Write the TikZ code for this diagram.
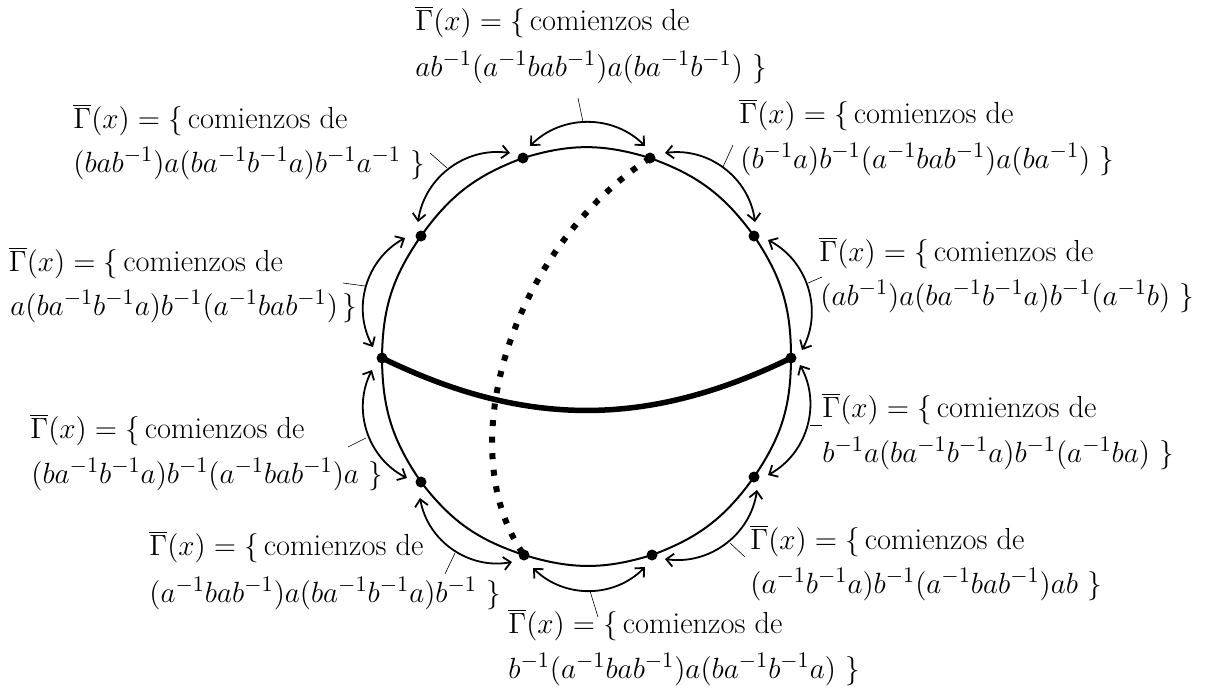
\documentclass[tikz,border=0pt]{standalone}
\usetikzlibrary{arrows.meta}
\tikzset{
  vtx/.style={circle,fill=black,inner sep=0pt,minimum size=11pt},
  rim/.style={line width=2pt,bend left=17},
  loopy/.style={line width=1.8pt,bend left=45,{Straight Barb[length=7pt,width=13pt,line width=1.8pt]}-{Straight Barb[length=7pt,width=13pt,line width=1.8pt]}},
  leader/.style={line width=0.6pt},
  lab/.style={anchor=base west,inner sep=0pt,font=\fontsize{15}{18}\selectfont,transform shape,scale=2.03},
  geo/.style={line width=5.5pt,bend right=26},
  dots/.style={line width=6pt,dash pattern=on 6pt off 10.6pt}
}
\newcommand{\gx}{$\overline{\Gamma}(x)=\{\,$comienzos de}
\begin{document}
\begin{tikzpicture}[x=1pt,y=-1pt]
\useasboundingbox (0,0) rectangle (1211,689);
% vertices
\node[vtx] (A) at (523,158) {};
\node[vtx] (B) at (650,158) {};
\node[vtx] (C) at (754,236) {};
\node[vtx] (D) at (791,358) {};
\node[vtx] (E) at (754,477) {};
\node[vtx] (F) at (652,555) {};
\node[vtx] (G) at (524,555) {};
\node[vtx] (H) at (421,482) {};
\node[vtx] (I) at (382,358) {};
\node[vtx] (J) at (421,236) {};
% rim
\draw[rim] (A.center) to (B.center);
\draw[rim] (B.center) to (C.center);
\draw[rim] (C.center) to (D.center);
\draw[rim] (D.center) to (E.center);
\draw[rim] (E.center) to (F.center);
\draw[rim] (F.center) to (G.center);
\draw[rim] (G.center) to (H.center);
\draw[rim] (H.center) to (I.center);
\draw[rim] (I.center) to (J.center);
\draw[rim] (J.center) to (A.center);
% inner curves
\draw[geo] (I.center) to (D.center);
\draw[dots] (B.center) .. controls (510,250) and (450,450) .. (G.center);
% arc end coordinates
\coordinate (ab1) at (530,146); \coordinate (ab2) at (645,146);
\coordinate (bc1) at (665,153); \coordinate (bc2) at (755,222);
\coordinate (cd1) at (768,240); \coordinate (cd2) at (802,350);
\coordinate (de1) at (800,365); \coordinate (de2) at (768,475);
\coordinate (ef1) at (757,490); \coordinate (ef2) at (665,559);
\coordinate (fg1) at (645,567); \coordinate (fg2) at (533,568);
\coordinate (gh1) at (512,562); \coordinate (gh2) at (420,498);
\coordinate (hi1) at (407,478); \coordinate (hi2) at (372,370);
\coordinate (ij1) at (373,347); \coordinate (ij2) at (405,238);
\coordinate (ja1) at (418,222); \coordinate (ja2) at (510,153);
\foreach \p/\q in {ab1/ab2,bc1/bc2,cd1/cd2,de1/de2,ef1/ef2,fg1/fg2,gh1/gh2,hi1/hi2,ij1/ij2,ja1/ja2}
  \draw[loopy] (\p) to (\q);
% labels
\node[lab] (l1a) at (415,30) {\gx};
\node[lab] (l1b) at (415,76) {$ab^{-1}(a^{-1}bab^{-1})a(ba^{-1}b^{-1})\ \}$};
\node[lab] (l2a) at (739,123) {\gx};
\node[lab] (l2b) at (740,168) {$(b^{-1}a)b^{-1}(a^{-1}bab^{-1})a(ba^{-1})\ \}$};
\node[lab] (l3a) at (819,261) {\gx};
\node[lab] (l3b) at (820,305) {$(ab^{-1})a(ba^{-1}b^{-1}a)b^{-1}(a^{-1}b)\ \}$};
\node[lab] (l4a) at (822,417) {\gx};
\node[lab] (l4b) at (822,462) {$b^{-1}a(ba^{-1}b^{-1}a)b^{-1}(a^{-1}ba)\ \}$};
\node[lab] (l5a) at (750,549) {\gx};
\node[lab] (l5b) at (750,593) {$(a^{-1}b^{-1}a)b^{-1}(a^{-1}bab^{-1})ab\ \}$};
\node[lab] (l6a) at (508,633) {\gx};
\node[lab] (l6b) at (508,678) {$b^{-1}(a^{-1}bab^{-1})a(ba^{-1}b^{-1}a)\ \}$};
\node[lab] (l7a) at (149,555) {\gx};
\node[lab] (l7b) at (149,602) {$(a^{-1}bab^{-1})a(ba^{-1}b^{-1}a)b^{-1}\ \}$};
\node[lab] (l8a) at (30,438) {\gx};
\node[lab] (l8b) at (31,483) {$(ba^{-1}b^{-1}a)b^{-1}(a^{-1}bab^{-1})a\ \}$};
\node[lab] (l9a) at (8.5,271) {\gx};
\node[lab] (l9b) at (10,315) {$a(ba^{-1}b^{-1}a)b^{-1}(a^{-1}bab^{-1})\,\}$};
\node[lab] (l10a) at (73,128) {\gx};
\node[lab] (l10b) at (73,172) {$(bab^{-1})a(ba^{-1}b^{-1}a)b^{-1}a^{-1}\ \}$};
% leaders
\coordinate (t1s) at (583,122); \coordinate (t1e) at (578,98);
\coordinate (t2s) at (723,167); \coordinate (t2e) at (733,145);
\coordinate (t3s) at (808,283); \coordinate (t3e) at (822,277);
\coordinate (t4s) at (810,425); \coordinate (t4e) at (822,425);
\coordinate (t5s) at (730,543); \coordinate (t5e) at (745,557);
\coordinate (t6s) at (590,591); \coordinate (t6e) at (598,617);
\coordinate (t7s) at (455,553); \coordinate (t7e) at (445,574);
\coordinate (t8s) at (366,438); \coordinate (t8e) at (348,447);
\coordinate (t9s) at (365,286); \coordinate (t9e) at (343,283);
\coordinate (t10s) at (447,168); \coordinate (t10e) at (430,153);
\foreach \i in {1,...,10} \draw[leader] (t\i s) -- (t\i e);
\end{tikzpicture}
\end{document}
